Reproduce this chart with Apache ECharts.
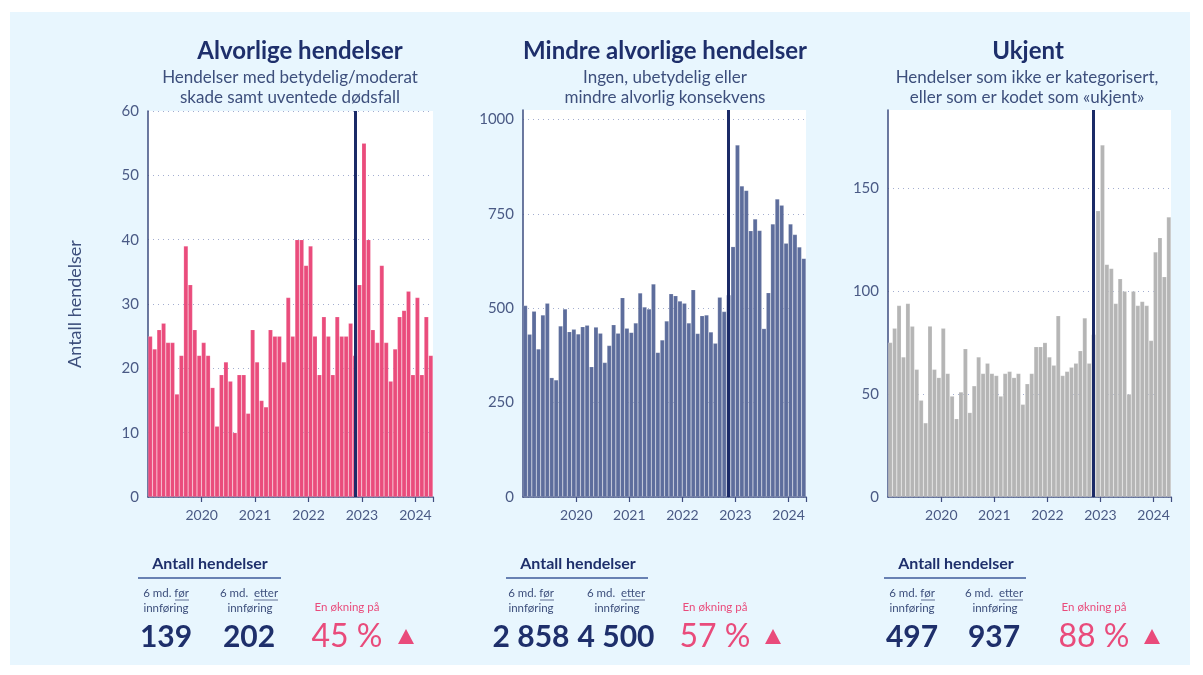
<!DOCTYPE html>
<html>
<head>
<meta charset="utf-8">
<script src="https://cdn.jsdelivr.net/npm/echarts@6/dist/echarts.min.js"></script>
<style>
  html, body { margin: 0; padding: 0; background: #ffffff; }
  #chart { width: 1203px; height: 675px; }
</style>
</head>
<body>
<div id="chart"></div>
<script>
  // månedlige hendelser jan 2019 - apr 2024
  const months = [
    '2019-01','2019-02','2019-03','2019-04','2019-05','2019-06','2019-07','2019-08','2019-09','2019-10','2019-11','2019-12',
    '2020-01','2020-02','2020-03','2020-04','2020-05','2020-06','2020-07','2020-08','2020-09','2020-10','2020-11','2020-12',
    '2021-01','2021-02','2021-03','2021-04','2021-05','2021-06','2021-07','2021-08','2021-09','2021-10','2021-11','2021-12',
    '2022-01','2022-02','2022-03','2022-04','2022-05','2022-06','2022-07','2022-08','2022-09','2022-10','2022-11','2022-12',
    '2023-01','2023-02','2023-03','2023-04','2023-05','2023-06','2023-07','2023-08','2023-09','2023-10','2023-11','2023-12',
    '2024-01','2024-02','2024-03','2024-04'
  ];
  const yearLabels = ['2020', '2021', '2022', '2023', '2024'];
  const introMonth = '2022-11';

  const alvorlige = [25,23,26,27,24,24,16,22,39,33,26,22,24,22,17,11,19,21,18,10,19,19,13,26,
    21,15,14,26,25,25,21,31,25,40,40,36,39,25,19,28,25,19,28,25,25,27,22,33,
    55,40,26,24,36,24,18,23,28,29,32,19,31,19,28,22];
  const mindre = [507,431,492,392,482,513,316,310,453,498,438,444,432,451,455,345,450,434,356,401,456,434,528,447,
    436,461,540,503,498,564,383,416,466,538,533,519,513,461,549,433,480,482,437,407,529,491,535,663,
    932,824,812,705,736,706,446,541,723,789,773,672,723,695,662,632];
  const ukjent = [75,82,93,68,94,83,62,47,36,83,62,58,82,60,49,38,51,72,41,54,68,60,65,60,
    59,49,60,61,58,60,45,55,60,73,73,75,68,64,88,59,61,63,65,71,87,65,79,139,
    171,113,111,94,106,100,50,100,93,95,93,76,119,126,107,136];

  const titles = ['Alvorlige hendelser', 'Mindre alvorlige hendelser', 'Ukjent'];
  const subtitles = [
    ['Hendelser med betydelig/moderat', 'skade samt uventede dødsfall'],
    ['Ingen, ubetydelig eller', 'mindre alvorlig konsekvens'],
    ['Hendelser som ikke er kategorisert,', 'eller som er kodet som «ukjent»']
  ];
  const before = ['139', '2 858', '497'];
  const after = ['202', '4 500', '937'];
  const change = ['45 %', '57 %', '88 %'];

  const navy = '#1e2f6b';
  const axisColor = '#3e4d7f';
  const labelColor = '#4a5a85';
  const pink = '#e94b7b';
  const font = 'Lato, "Open Sans", sans-serif';

  const myChart = echarts.init(document.getElementById('chart'));

  // plassering for hvert panel
  const panels = [
    {left: 148, width: 285, top: 111, height: 386, data: alvorlige, color: '#ea4c7c', max: 60, interval: 10,
      cx: 300, sx: 290, stat: {head: 210, line: [138, 281], b: 166, a: 249, ch: 347, tri: 398}},
    {left: 523, width: 283, top: 110, height: 387, data: mindre, color: '#5d6d9c', max: 1025, interval: 250,
      cx: 665, sx: 665, stat: {head: 578, line: [506, 648], b: 531, a: 616, ch: 715, tri: 765}},
    {left: 888, width: 283, top: 110, height: 387, data: ukjent, color: '#b5b5b5', max: 188, interval: 50,
      cx: 1028, sx: 1027, stat: {head: 956, line: [884, 1026], b: 912, a: 994, ch: 1094, tri: 1144}}
  ];

  function isYearStart(index) {
    const m = months[index];
    return m.slice(5) === '01' && yearLabels.indexOf(m.slice(0, 4)) >= 0;
  }

  const grids = [], xAxes = [], yAxes = [], series = [], graphics = [];

  graphics.push({type: 'rect', z: -100, shape: {x: 10, y: 12, width: 1180, height: 653},
    style: {fill: '#e8f6fe'}});

  panels.forEach((p, i) => {
    grids.push({left: p.left, top: p.top, width: p.width, height: p.height,
      show: true, backgroundColor: '#ffffff', borderWidth: 0});

    xAxes.push({
      type: 'category', gridIndex: i, data: months, boundaryGap: true,
      axisLine: {lineStyle: {color: axisColor, width: 1.5}},
      axisTick: {show: true, interval: isYearStart, length: 5, lineStyle: {color: axisColor, width: 1.2}},
      axisLabel: {
        interval: isYearStart, formatter: v => v.slice(0, 4),
        color: labelColor, fontSize: 14, fontFamily: font, margin: 11, padding: [0, 4, 0, 0]
      },
      splitLine: {show: false}
    });

    yAxes.push({
      type: 'value', gridIndex: i, min: 0, max: p.max, interval: p.interval,
      name: i === 0 ? 'Antall hendelser' : '', nameLocation: 'middle', nameGap: 64,
      nameTextStyle: {color: '#3d4f7c', fontSize: 18, fontFamily: font},
      axisLine: {show: true, lineStyle: {color: axisColor, width: 1.5}},
      axisTick: {show: false},
      axisLabel: {
        color: labelColor, fontSize: 15, fontFamily: font, margin: 9,
        showMaxLabel: i === 0,
        formatter: v => (v % p.interval === 0 ? String(v) : '')
      },
      splitLine: {show: true, showMaxLine: i === 0, lineStyle: {color: '#a3add0', type: [1, 4], width: 1}}
    });

    series.push({
      type: 'bar', xAxisIndex: i, yAxisIndex: i, data: p.data,
      barCategoryGap: '0%',
      itemStyle: {color: p.color, borderColor: 'rgba(255,255,255,0.3)', borderWidth: 0.5},
      emphasis: {disabled: true},
      markLine: {
        silent: true, symbol: ['none', 'none'], label: {show: false},
        lineStyle: {color: '#1b2a67', width: 3, type: 'solid'},
        data: [{xAxis: introMonth}]
      }
    });

    // overskrifter
    graphics.push({type: 'text', style: {text: titles[i], x: p.cx, y: 51, fill: navy,
      font: 'bold 24px ' + font, textAlign: 'center', textVerticalAlign: 'middle'}});
    subtitles[i].forEach((t, k) => {
      graphics.push({type: 'text', style: {text: t, x: p.sx, y: 78 + k * 20, fill: '#3d4f7c',
        font: '17px ' + font, textAlign: 'center', textVerticalAlign: 'middle'}});
    });

    // tabell under
    const s = p.stat;
    graphics.push({type: 'text', style: {text: 'Antall hendelser', x: s.head, y: 564, fill: navy,
      font: 'bold 16px ' + font, textAlign: 'center', textVerticalAlign: 'middle'}});
    graphics.push({type: 'line', shape: {x1: s.line[0], y1: 578, x2: s.line[1], y2: 578},
      style: {stroke: '#3e5a9a', lineWidth: 1.5}});
    graphics.push({type: 'text', style: {text: '6 md. før', x: s.b, y: 593, fill: '#3d4f7c',
      font: '11.5px ' + font, textAlign: 'center', textVerticalAlign: 'middle'}});
    graphics.push({type: 'line', shape: {x1: s.b + 9, y1: 600, x2: s.b + 23, y2: 600},
      style: {stroke: '#3d4f7c', lineWidth: 0.8}});
    graphics.push({type: 'text', style: {text: 'innføring', x: s.b, y: 608, fill: '#3d4f7c',
      font: '11.5px ' + font, textAlign: 'center', textVerticalAlign: 'middle'}});
    graphics.push({type: 'text', style: {text: '6 md.  etter', x: s.a, y: 593, fill: '#3d4f7c',
      font: '11.5px ' + font, textAlign: 'center', textVerticalAlign: 'middle'}});
    graphics.push({type: 'line', shape: {x1: s.a + 5, y1: 600, x2: s.a + 29, y2: 600},
      style: {stroke: '#3d4f7c', lineWidth: 0.8}});
    graphics.push({type: 'text', style: {text: 'innføring', x: s.a + 1, y: 608, fill: '#3d4f7c',
      font: '11.5px ' + font, textAlign: 'center', textVerticalAlign: 'middle'}});
    graphics.push({type: 'text', style: {text: before[i], x: s.b, y: 637, fill: navy,
      font: 'bold 30px ' + font, textAlign: 'center', textVerticalAlign: 'middle'}});
    graphics.push({type: 'text', style: {text: after[i], x: s.a, y: 637, fill: navy,
      font: 'bold 30px ' + font, textAlign: 'center', textVerticalAlign: 'middle'}});
    graphics.push({type: 'text', style: {text: 'En økning på', x: s.ch, y: 607, fill: pink,
      font: '11.5px ' + font, textAlign: 'center', textVerticalAlign: 'middle'}});
    graphics.push({type: 'text', style: {text: change[i], x: s.ch, y: 637, fill: pink,
      font: '32px ' + font, textAlign: 'center', textVerticalAlign: 'middle'}});
    graphics.push({type: 'polygon', shape: {points: [[s.tri, 644], [s.tri + 16, 644], [s.tri + 8, 629]]},
      style: {fill: pink}});
  });

  myChart.setOption({
    animation: false,
    backgroundColor: '#ffffff',
    textStyle: {fontFamily: font},
    grid: grids,
    xAxis: xAxes,
    yAxis: yAxes,
    series: series,
    graphic: graphics
  });
</script>
</body>
</html>
